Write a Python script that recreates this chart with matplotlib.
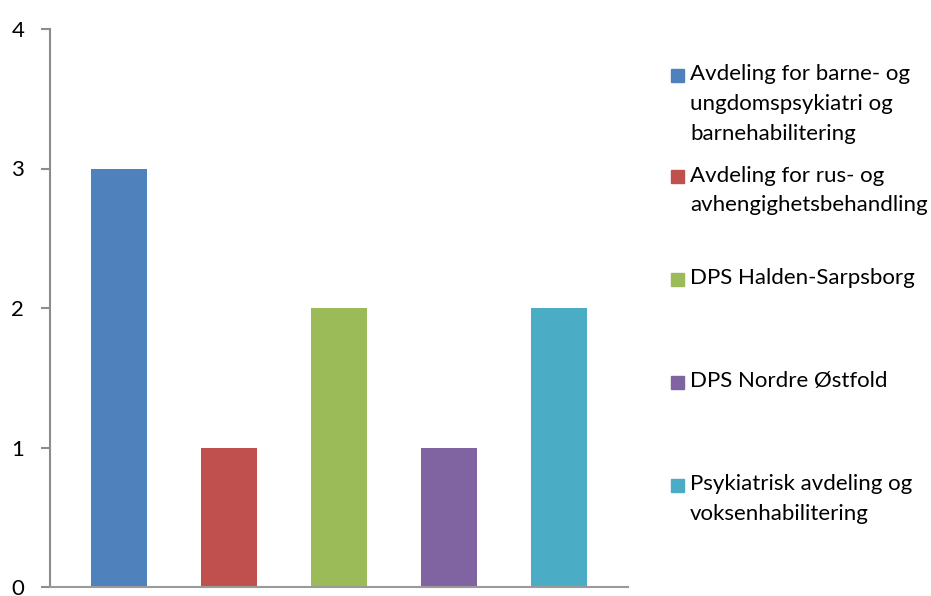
import matplotlib
matplotlib.use("Agg")
import matplotlib.pyplot as plt
from matplotlib.patches import Rectangle

# enheter og antall
labels = ["Avdeling for barne- og\nungdomspsykiatri og\nbarnehabilitering",
          "Avdeling for rus- og\navhengighetsbehandling",
          "DPS Halden-Sarpsborg",
          "DPS Nordre Østfold",
          "Psykiatrisk avdeling og\nvoksenhabilitering"]
values = [3, 1, 2, 1, 2]
colors = ["#4F81BD", "#C0504D", "#9BBB59", "#8064A2", "#4BACC6"]
yticks = [0, 1, 2, 3, 4]

W, H = 931, 596
plt.rcParams['font.family'] = ['Lato', 'DejaVu Sans']

fig = plt.figure(figsize=(W / 100, H / 100), dpi=100)
ax = fig.add_axes([50 / W, 1 - 587 / H, (628 - 50) / W, (587 - 29) / H])

x = list(range(len(values)))
ax.bar(x, values, width=0.51, color=colors, zorder=2)

ax.set_xlim(-0.627, len(values) - 1 + 0.627)
ax.set_ylim(0, 4)
ax.set_yticks(yticks)
ax.set_yticklabels([str(t) for t in yticks], fontsize=16)
ax.set_xticks([])
ax.tick_params(axis='y', direction='out', length=6.5, width=1.5,
               color='#8c8c8c', pad=12)
for side in ['top', 'right']:
    ax.spines[side].set_visible(False)
ax.spines['left'].set_color('#8c8c8c')
ax.spines['left'].set_linewidth(1.5)
ax.spines['bottom'].set_color('#9a9a9a')
ax.spines['bottom'].set_linewidth(1.5)

# legend, one entry per unit, evenly spaced
entry_y = [75, 176, 279, 382, 485]
for lab, col, yy in zip(labels, colors, entry_y):
    fig.patches.append(Rectangle((671 / W, 1 - (yy + 6.5) / H), 13 / W, 13 / H,
                                 transform=fig.transFigure, color=col))
    fig.text(690 / W, 1 - (yy - 10.5) / H, lab, fontsize=16, va='top',
             ha='left', linespacing=1.62, color='#000000')

fig.savefig("out.png", dpi=100)
